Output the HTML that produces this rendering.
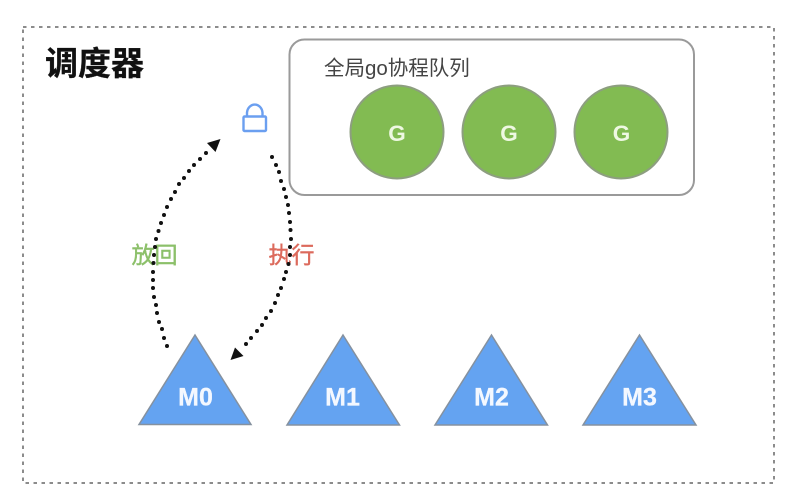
<!DOCTYPE html>
<html><head><meta charset="utf-8"><style>
html,body{margin:0;padding:0;background:#fff;width:802px;height:485px;overflow:hidden}
svg{display:block;filter:blur(.35px)}
text{font-family:"Liberation Sans","Noto Sans CJK SC",sans-serif}
</style></head><body>
<svg width="802" height="485" viewBox="0 0 802 485" xmlns="http://www.w3.org/2000/svg">
<rect width="802" height="485" fill="#fff"/>
<rect x="23" y="27" width="751" height="456" fill="none" stroke="#8c8c8c" stroke-width="2" stroke-dasharray="3.5 4.5"/>
<text x="45" y="75" font-size="33" font-weight="700" fill="#111" stroke="#111" stroke-width=".3">调度器</text>
<rect x="289.5" y="39.5" width="404.5" height="155.5" rx="15" fill="#fff" stroke="#9a9a9a" stroke-width="2"/>
<text x="324" y="75" font-size="20.5" fill="#444">全局go协程队列</text>
<g fill="#82bb52" stroke="#8d9e80" stroke-width="2">
<circle cx="397" cy="132" r="46.5"/><circle cx="509" cy="132" r="46.5"/><circle cx="621" cy="132" r="46.5"/>
</g>
<g fill="#eef8e2" font-size="22.5" font-weight="700" text-anchor="middle">
<text x="397" y="141">G</text><text x="509" y="141">G</text><text x="621.500" y="141">G</text>
</g>
<g fill="none" stroke="#6b9ff0" stroke-width="2.400">
<rect x="243.500" y="116.500" width="22.500" height="14.500" rx="1"/>
<path d="M247 116v-3.500a7.800 9 0 0 1 15.500 0v3.500"/>
</g>
<text x="131.500" y="263" font-size="23" fill="#8cc06a" stroke="#8cc06a" stroke-width=".4">放回</text>
<text x="268.500" y="263" font-size="23" fill="#dc6a5c" stroke="#dc6a5c" stroke-width=".4">执行</text>
<g fill="#111">
<circle cx="167" cy="346" r="2"/><circle cx="164" cy="338" r="2"/><circle cx="162" cy="329" r="2"/><circle cx="159" cy="322" r="2"/><circle cx="157" cy="313" r="2"/><circle cx="156" cy="305" r="2"/><circle cx="154" cy="297" r="2"/><circle cx="153" cy="288" r="2"/><circle cx="153" cy="280" r="2"/><circle cx="153" cy="272" r="2"/><circle cx="153.500" cy="263" r="2"/><circle cx="154" cy="255" r="2"/><circle cx="155" cy="247" r="2"/><circle cx="156" cy="239" r="2"/><circle cx="158.500" cy="231" r="2"/><circle cx="161" cy="223" r="2"/><circle cx="164" cy="215" r="2"/><circle cx="167" cy="207" r="2"/><circle cx="171" cy="199" r="2"/><circle cx="175" cy="192" r="2"/><circle cx="179" cy="184" r="2"/><circle cx="184" cy="178" r="2"/><circle cx="189" cy="171" r="2"/><circle cx="194" cy="165" r="2"/><circle cx="200" cy="159" r="2"/><circle cx="206" cy="153" r="2"/>
<circle cx="272" cy="157" r="2"/><circle cx="276" cy="165" r="2"/><circle cx="279" cy="172" r="2"/><circle cx="281" cy="181" r="2"/><circle cx="284" cy="189" r="2"/><circle cx="286" cy="197" r="2"/><circle cx="288" cy="205" r="2"/><circle cx="289" cy="213" r="2"/><circle cx="290" cy="222" r="2"/><circle cx="290.500" cy="230" r="2"/><circle cx="291" cy="239" r="2"/><circle cx="290" cy="247" r="2"/><circle cx="290" cy="255" r="2"/><circle cx="288.500" cy="264" r="2"/><circle cx="286" cy="272" r="2"/><circle cx="284" cy="279" r="2"/><circle cx="281" cy="288" r="2"/><circle cx="278" cy="295" r="2"/><circle cx="275" cy="303" r="2"/><circle cx="271" cy="311" r="2"/><circle cx="266" cy="318" r="2"/><circle cx="262" cy="325" r="2"/><circle cx="257" cy="331" r="2"/><circle cx="251" cy="338" r="2"/><circle cx="246" cy="344" r="2"/>
</g>
<polygon points="220.500,139 215.500,152 207,143" fill="#111"/>
<polygon points="230.500,360 235,347.500 243.500,356" fill="#111"/>
<g fill="#64a3f1" stroke="#85919f" stroke-width="1.500">
<polygon points="195,335 139,424.500 251,424.500"/>
<polygon points="343,335 287,425 399.500,425"/>
<polygon points="491.500,335 435,425 547.500,425"/>
<polygon points="639.500,335 583,425 696,425"/>
</g>
<g fill="#f4f8ff" stroke="#f4f8ff" stroke-width=".3" font-size="25" font-weight="700" text-anchor="middle">
<text x="195.500" y="405.500">M0</text><text x="342.500" y="405.500">M1</text><text x="491.500" y="405.500">M2</text><text x="639.500" y="405.500">M3</text>
</g>
</svg>
</body></html>
